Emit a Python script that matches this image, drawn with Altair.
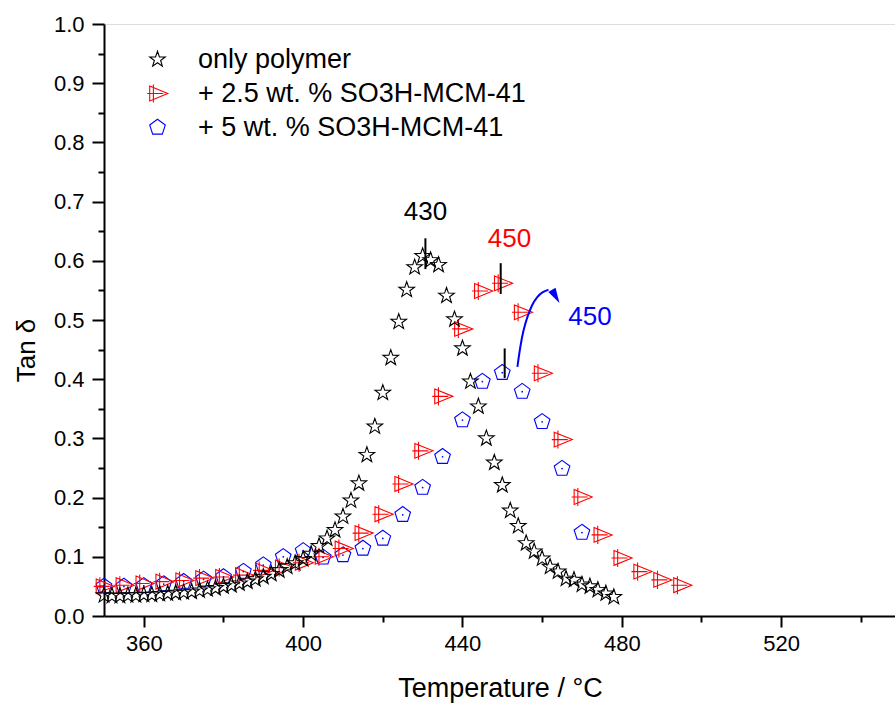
import math
import altair as alt
import pandas as pd

# ---------------- data ----------------
series_names = ["only polymer", "+ 2.5 wt. % SO3H-MCM-41", "+ 5 wt. % SO3H-MCM-41"]
series_colors = ["#000000", "#FF0000", "#0000FF"]

poly_T = [350, 352, 354, 356, 358, 360, 362, 364, 366, 368, 370, 372, 374, 376, 378,
          380, 382, 384, 386, 388, 390, 392, 394, 396, 398, 400, 402, 404, 406, 408,
          410, 412, 414, 416, 418, 420, 422, 424, 426, 428, 430, 432, 434, 436, 438,
          440, 442, 444, 446, 448, 450, 452, 454, 456, 458, 460, 462, 464, 466, 468,
          470, 472, 474, 476, 478]
poly_v = [0.035, 0.034, 0.034, 0.035, 0.035, 0.036, 0.036, 0.037, 0.038, 0.039, 0.040,
          0.041, 0.043, 0.045, 0.047, 0.050, 0.052, 0.055, 0.058, 0.062, 0.066, 0.071,
          0.077, 0.083, 0.089, 0.096, 0.105, 0.118, 0.131, 0.145, 0.168, 0.195, 0.224,
          0.272, 0.320, 0.377, 0.436, 0.497, 0.551, 0.589, 0.608, 0.601, 0.593, 0.541,
          0.501, 0.452, 0.396, 0.354, 0.300, 0.259, 0.221, 0.178, 0.152, 0.123, 0.109,
          0.097, 0.083, 0.075, 0.063, 0.061, 0.053, 0.050, 0.044, 0.038, 0.032]

red_T = [350, 355, 360, 365, 370, 375, 380, 385, 390, 395, 400, 405, 410, 415, 420,
         425, 430, 435, 440, 445, 450, 455, 460, 465, 470, 475, 480, 485, 490, 495]
red_v = [0.050, 0.052, 0.055, 0.058, 0.060, 0.064, 0.066, 0.069, 0.077, 0.082, 0.090,
         0.100, 0.114, 0.140, 0.172, 0.223, 0.279, 0.371, 0.485, 0.549, 0.562, 0.513,
         0.410, 0.298, 0.201, 0.137, 0.098, 0.075, 0.061, 0.052]

blue_T = [350, 355, 360, 365, 370, 375, 380, 385, 390, 395, 400, 405, 410, 415, 420,
          425, 430, 435, 440, 445, 450, 455, 460, 465, 470]
blue_v = [0.050, 0.050, 0.051, 0.054, 0.058, 0.062, 0.066, 0.075, 0.086, 0.100, 0.110,
          0.099, 0.103, 0.114, 0.131, 0.171, 0.217, 0.269, 0.331, 0.396, 0.411, 0.379,
          0.328, 0.249, 0.141]

# annotations
ann_text = ["430", "450", "450"]
ann_T = [430.7, 451.8, 472.0]
ann_v = [0.682, 0.636, 0.505]
ann_color = ["#000000", "#FF0000", "#0000FF"]

mark_T = [430.7, 449.6, 450.6]
mark_v1 = [0.586, 0.544, 0.402]
mark_v2 = [0.638, 0.596, 0.452]

arrow_T = [453.8, 454.5, 455.3, 456.3, 457.4, 458.7, 460.2, 461.6]
arrow_v = [0.421, 0.455, 0.483, 0.506, 0.525, 0.539, 0.548, 0.551]
head_T = [463.3]
head_v = [0.541]

x_major = [360, 400, 440, 480, 520]
x_minor = [380, 420, 460, 500, 540]
y_major = [0.0, 0.1, 0.2, 0.3, 0.4, 0.5, 0.6, 0.7, 0.8, 0.9, 1.0]
y_minor = [0.05, 0.15, 0.25, 0.35, 0.45, 0.55, 0.65, 0.75, 0.85, 0.95]

# ---------------- symbols ----------------
def star_path():
    pts = []
    for k in range(10):
        ang = math.radians(-90 + 36 * k)
        r = 1.0 if k % 2 == 0 else 0.4
        pts.append((r * math.cos(ang), r * math.sin(ang)))
    return "M " + " L ".join(f"{x:.3f} {y:.3f}" for x, y in pts) + " Z"

STAR = star_path()
TRI_PLUS = ("M -0.95 -0.9 L 1.25 0 L -0.95 0.9 Z "
            "M -0.5 -1.1 L -0.5 1.1 M -1.25 0 L 0.7 0")
PENT = "M 0 -1 L 0.951 -0.309 L 0.588 0.809 L -0.588 0.809 L -0.951 -0.309 Z"
HEAD = "M 0 -1 L 0.5 0.8 L -0.5 0.8 Z"

FONT = "Liberation Sans"

df = pd.concat([
    pd.DataFrame({"T": blue_T, "v": blue_v, "series": series_names[2], "o": 0}),
    pd.DataFrame({"T": red_T, "v": red_v, "series": series_names[1], "o": 1}),
    pd.DataFrame({"T": poly_T, "v": poly_v, "series": series_names[0], "o": 2}),
], ignore_index=True)
df_blue = pd.DataFrame({"T": blue_T, "v": blue_v})
df_ann = pd.DataFrame({"T": ann_T, "v": ann_v, "txt": ann_text, "c": ann_color})
df_mark = pd.DataFrame({"T": mark_T, "v1": mark_v1, "v2": mark_v2})
df_arrow = pd.DataFrame({"T": arrow_T, "v": arrow_v, "i": list(range(len(arrow_T)))})
df_head = pd.DataFrame({"T": head_T, "v": head_v})

xs = alt.Scale(domain=[350, 548.6], nice=False, zero=False)
ys = alt.Scale(domain=[0, 1], nice=False, zero=False)

x_axis = alt.Axis(values=x_major, format="d", orient="bottom", grid=False,
                  domainColor="black", domainWidth=2, tickColor="black", tickWidth=2,
                  tickSize=11, labelFont=FONT, labelFontSize=22, labelColor="black",
                  labelPadding=6, title="Temperature / °C", titleFont=FONT,
                  titleFontSize=27, titleFontWeight="normal", titleColor="black",
                  titleX=396, titleY=72, titleBaseline="middle", titleAlign="center")
y_axis = alt.Axis(values=y_major, format=".1f", orient="left", grid=False,
                  domainColor="black", domainWidth=2, tickColor="black", tickWidth=2,
                  tickSize=12, labelFont=FONT, labelFontSize=22, labelColor="black",
                  labelPadding=8, title="Tan δ", titleFont=FONT, titleFontSize=26,
                  titleFontWeight="normal", titleColor="black", titleX=-78, titleY=326,
                  titleBaseline="middle", titleAlign="center", titleAngle=270)

x_axis_minor = alt.Axis(values=x_minor, orient="bottom", grid=False, labels=False,
                        domain=False, tickColor="black", tickWidth=2, tickSize=6, title=None)
y_axis_minor = alt.Axis(values=y_minor, orient="left", grid=False, labels=False,
                        domain=False, tickColor="black", tickWidth=2, tickSize=6, title=None)

legend = alt.Legend(orient="none", legendX=40, legendY=22, title=None, labelFont=FONT,
                    labelFontSize=27, labelColor="black", labelOffset=27, rowPadding=6,
                    labelLimit=0, symbolSize=270, symbolStrokeWidth=1.1)

points = alt.Chart(df).mark_point(filled=False, size=270, strokeWidth=1.1, opacity=1).encode(
    x=alt.X("T:Q", scale=xs, axis=x_axis),
    y=alt.Y("v:Q", scale=ys, axis=y_axis),
    color=alt.Color("series:N", scale=alt.Scale(domain=series_names, range=series_colors),
                    legend=legend),
    shape=alt.Shape("series:N", scale=alt.Scale(domain=series_names,
                                                range=[STAR, TRI_PLUS, PENT]),
                    legend=legend),
    order=alt.Order("o:Q"),
)

minor = alt.Chart(df).mark_point(opacity=0).encode(
    x=alt.X("T:Q", scale=xs, axis=x_axis_minor),
    y=alt.Y("v:Q", scale=ys, axis=y_axis_minor),
)

dots = alt.Chart(df_blue).mark_point(shape="circle", filled=True, size=3, color="#0000FF",
                                     opacity=1).encode(
    x=alt.X("T:Q", axis=None), y=alt.Y("v:Q", axis=None))

rules = alt.Chart(df_mark).mark_rule(color="black", strokeWidth=2).encode(
    x=alt.X("T:Q", axis=None), y=alt.Y("v1:Q", axis=None), y2="v2:Q")

texts = alt.Chart(df_ann).mark_text(font=FONT, fontSize=26, align="center",
                                    baseline="middle").encode(
    x=alt.X("T:Q", axis=None), y=alt.Y("v:Q", axis=None), text="txt:N",
    color=alt.Color("c:N", scale=None))

arrow = alt.Chart(df_arrow).mark_line(color="#0000FF", strokeWidth=2,
                                      interpolate="basis").encode(
    x=alt.X("T:Q", axis=None), y=alt.Y("v:Q", axis=None), order="i:Q")

head = alt.Chart(df_head).mark_point(shape=HEAD, filled=True, size=280, angle=150,
                                     color="#0000FF", opacity=1).encode(
    x=alt.X("T:Q", axis=None), y=alt.Y("v:Q", axis=None))

chart = alt.layer(points, minor, dots, rules, texts, arrow, head).resolve_axis(
    x="independent", y="independent"
).properties(
    width=791, height=592,
    padding={"left": 104, "top": 24, "right": 0, "bottom": 90},
    autosize="none",
).configure_view(stroke=None).configure(background="white")

chart.save("out.html", embed_options={"renderer": "svg", "actions": False})
